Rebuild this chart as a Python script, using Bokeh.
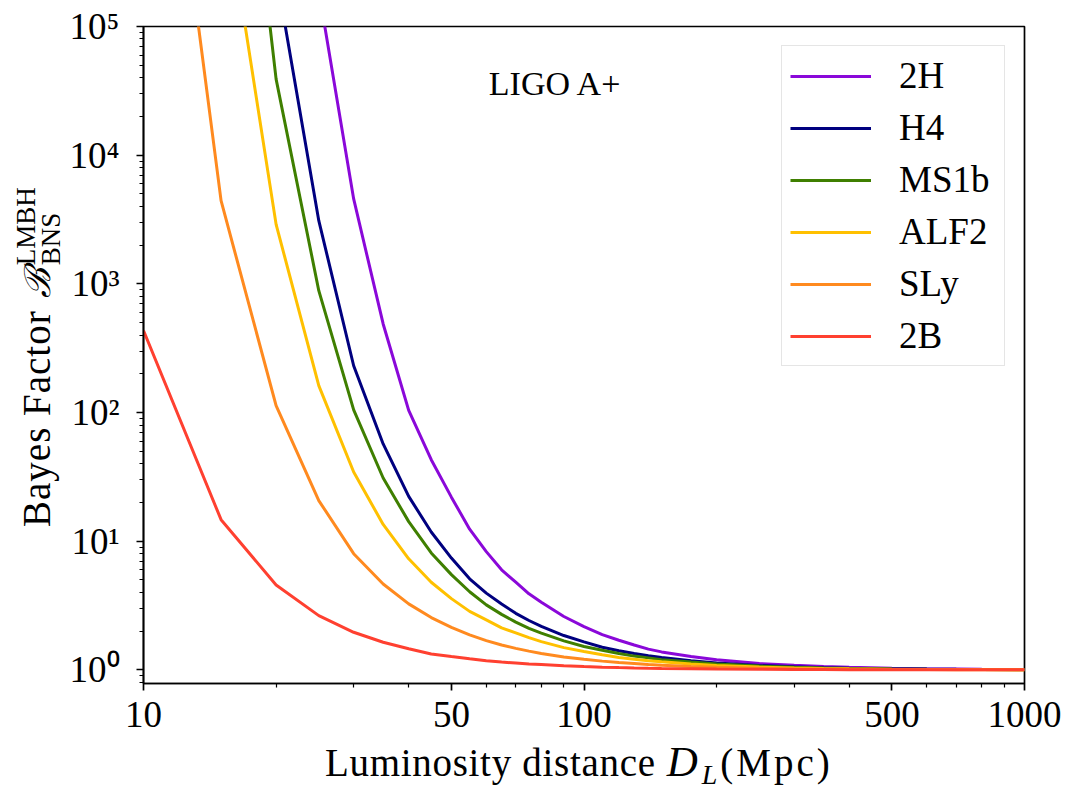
from bokeh.plotting import figure
from bokeh.models import Range1d, FixedTicker, CustomJSTickFormatter, Label, Div
from bokeh.layouts import row, column
from bokeh.embed import file_html
from bokeh.resources import INLINE

nan = float("nan")

# Luminosity distance (Mpc)
distance = [10, 15, 20, 25, 30, 35, 40, 45, 50, 55, 60, 65, 70, 75, 80, 90, 100,
            110, 120, 130, 140, 150, 175, 200, 250, 300, 350, 400, 500, 600, 700, 800, 1000]

bf_2H = [nan, nan, nan, 1.9e5, 4570, 488, 104, 43, 22, 12.4, 8.3, 6.0, 4.8, 3.9, 3.35, 2.6, 2.17,
         1.88, 1.7, 1.56, 1.45, 1.38, 1.27, 1.2, 1.12, 1.085, 1.062, 1.048, 1.03, 1.021, 1.016, 1.012, 1.008]
bf_H4 = [nan, nan, 2.6e5, 3100, 231, 57, 22.3, 11.8, 7.4, 5.1, 3.95, 3.25, 2.75, 2.42, 2.18, 1.85, 1.65,
         1.5, 1.41, 1.34, 1.29, 1.25, 1.18, 1.13, 1.083, 1.057, 1.041, 1.032, 1.02, 1.014, 1.01, 1.008, 1.005]
bf_MS1b = [nan, 2e8, 39000, 885, 105, 31, 14.2, 8.1, 5.5, 4.05, 3.2, 2.7, 2.35, 2.1, 1.93, 1.68, 1.52,
           1.42, 1.34, 1.28, 1.24, 1.2, 1.15, 1.11, 1.07, 1.048, 1.035, 1.027, 1.017, 1.012, 1.009, 1.007, 1.004]
bf_ALF2 = [nan, 1.6e6, 2900, 162, 34.5, 13.5, 7.3, 4.8, 3.58, 2.85, 2.45, 2.12, 1.94, 1.78, 1.66, 1.49, 1.39,
           1.31, 1.25, 1.21, 1.18, 1.155, 1.11, 1.083, 1.052, 1.036, 1.026, 1.02, 1.013, 1.009, 1.007, 1.005, 1.003]
bf_SLy = [2e8, 4430, 113, 20.7, 8.0, 4.65, 3.26, 2.55, 2.14, 1.87, 1.69, 1.56, 1.47, 1.4, 1.34, 1.26, 1.21,
          1.17, 1.14, 1.12, 1.1, 1.088, 1.064, 1.048, 1.031, 1.021, 1.016, 1.012, 1.008, 1.005, 1.004, 1.003, 1.002]
bf_2B = [433, 14.7, 4.57, 2.64, 1.96, 1.64, 1.46, 1.33, 1.27, 1.22, 1.18, 1.15, 1.13, 1.11, 1.1, 1.077, 1.062,
         1.05, 1.042, 1.036, 1.031, 1.027, 1.02, 1.015, 1.01, 1.007, 1.005, 1.004, 1.002, 1.002, 1.001, 1.001, 1.001]

series_names = ["2H", "H4", "MS1b", "ALF2", "SLy", "2B"]
series_values = [bf_2H, bf_H4, bf_MS1b, bf_ALF2, bf_SLy, bf_2B]
series_colors = ["#8a08d9", "#00007f", "#3f7f00", "#ffc000", "#ff8a1f", "#ff4030"]

x_major = [10, 50, 100, 500, 1000]
x_minor = [20, 30, 40, 60, 70, 80, 90, 200, 300, 400, 600, 700, 800, 900]
y_major = [1, 10, 100, 1000, 10000, 100000]
y_minor = [0.8, 0.9] + [m * 10 ** e for e in range(0, 5) for m in range(2, 10)]

FONT = "Liberation Serif"

YDIV_W = 60
P_W, P_H = 1010, 743
XDIV_H = 45

p = figure(width=P_W, height=P_H, x_axis_type="log", y_axis_type="log",
           x_range=Range1d(10, 1000), y_range=Range1d(0.784, 1e5),
           output_backend="svg", toolbar_location=None, title=None,
           min_border_left=83, min_border_right=46, min_border_top=26, min_border_bottom=60)

p.xgrid.visible = False
p.ygrid.visible = False
p.outline_line_color = "black"
p.outline_line_width = 1.7
p.background_fill_color = "white"
p.border_fill_color = "white"

for name, vals, col in zip(series_names, series_values, series_colors):
    p.line(distance, vals, line_color=col, line_width=3, legend_label=name)

for ax in (p.xaxis[0], p.yaxis[0]):
    ax.axis_line_color = "black"
    ax.axis_line_width = 1.7
    ax.major_tick_line_color = "black"
    ax.minor_tick_line_color = "black"
    ax.major_tick_line_width = 1.7
    ax.minor_tick_line_width = 1.2
    ax.major_tick_in = 0
    ax.major_tick_out = 7
    ax.minor_tick_in = 0
    ax.minor_tick_out = 4
    ax.major_label_text_font = FONT
    ax.major_label_text_font_size = "37px"
    ax.major_label_text_color = "black"

p.xaxis[0].ticker = FixedTicker(ticks=x_major, minor_ticks=x_minor)
p.xaxis[0].formatter = CustomJSTickFormatter(code="return String(Math.round(tick));")
p.xaxis[0].major_label_standoff = 11

p.yaxis[0].ticker = FixedTicker(ticks=y_major, minor_ticks=y_minor)
p.yaxis[0].formatter = CustomJSTickFormatter(code="""
const sup = {"0":"\u2070","1":"\u00b9","2":"\u00b2","3":"\u00b3","4":"\u2074","5":"\u2075"};
const e = Math.round(Math.log10(tick));
return "10" + sup[String(e)];
""")
p.yaxis[0].major_label_standoff = 17

# in-plot annotation (screen units relative to the frame)
p.add_layout(Label(x=412, y=600, x_units="screen", y_units="screen",
                   text="LIGO A+", text_font=FONT, text_font_size="34px",
                   text_align="center", text_baseline="alphabetic", text_color="black"))

lg = p.legend[0]
lg.location = "top_right"
lg.margin = 19
lg.padding = 8
lg.spacing = 9
lg.glyph_height = 42
lg.glyph_width = 81
lg.label_height = 42
lg.label_standoff = 28
lg.label_width = 97
lg.label_text_font = FONT
lg.label_text_font_size = "37px"
lg.label_text_color = "black"
lg.border_line_color = "#cccccc"
lg.border_line_width = 1.5
lg.background_fill_alpha = 0.8

# y-axis title (rotated HTML text with stacked super/subscript)
ylab_html = (
    '<div style="position:relative;width:%dpx;height:%dpx;">'
    '<div style="position:absolute;left:17px;top:527px;transform-origin:0 0;transform:rotate(-90deg);'
    'white-space:nowrap;font-family:Liberation Serif;font-size:39px;line-height:39px;color:#000;">'
    '<span style="letter-spacing:1px;">Bayes Factor</span>'
    '<span style="margin-left:12px;font-family:DejaVu Serif;font-style:italic;font-size:36px;">\u212c</span>'
    '<span style="display:inline-block;position:relative;font-size:27px;line-height:27px;margin-left:3px;">'
    '<span style="position:relative;top:-15px;">LMBH</span>'
    '<span style="position:absolute;left:0;top:10px;">BNS</span>'
    '</span></div></div>'
) % (YDIV_W, P_H + XDIV_H)

xlab_html = (
    '<div style="position:relative;width:%dpx;height:%dpx;">'
    '<div style="position:absolute;left:265px;top:-1px;white-space:nowrap;'
    'font-family:Liberation Serif;font-size:39px;line-height:39px;color:#000;">'
    '<span style="letter-spacing:0.7px;">Luminosity distance</span>'
    '<span style="font-style:italic;font-size:43px;margin-left:11px;">D</span>'
    '<span style="font-style:italic;font-size:28px;position:relative;top:8px;margin-left:4px;">L</span>'
    '<span style="margin-left:3px;letter-spacing:3px;">(Mpc)</span>'
    '</div></div>'
) % (P_W, XDIV_H)

ydiv = Div(text=ylab_html, width=YDIV_W, height=P_H + XDIV_H, margin=0,
           styles={"overflow": "visible", "font-family": "Liberation Serif"})
xdiv = Div(text=xlab_html, width=P_W, height=XDIV_H, margin=0,
           styles={"overflow": "visible", "font-family": "Liberation Serif"})

layout = row(ydiv, column(p, xdiv, spacing=0), spacing=0)

open("out.html", "w").write(file_html(layout, INLINE))
